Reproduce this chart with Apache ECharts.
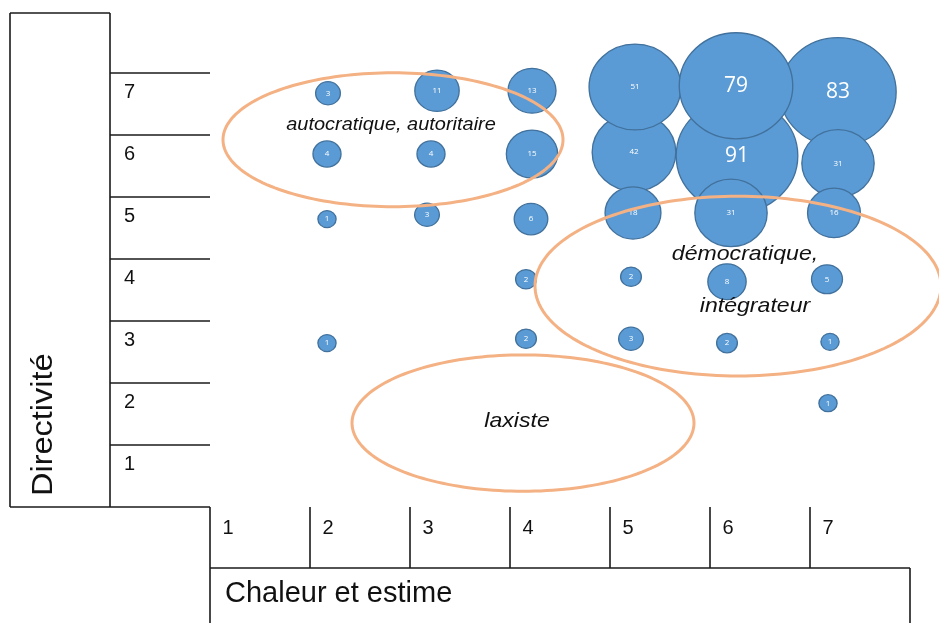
<!doctype html>
<html lang="fr">
<head>
    <meta charset="UTF-8">
    <title>Directivité / Chaleur et estime</title>
    <script src="https://cdn.jsdelivr.net/npm/echarts@6/dist/echarts.min.js"></script>
    <style>
        html, body { margin: 0; padding: 0; background: #fff; }
        #chart { width: 939px; height: 623px; }
    </style>
</head>
<body>
<div id="chart"></div>
<script type="text/javascript">
    // bubbles: chaleur (x), directivité (y), effectif
    var chaleur     = [6.09, 7.10, 5.06, 5.07, 6.08, 7.10, 6.03, 5.05, 7.06, 2.00, 3.09, 4.04, 1.99, 3.03,
                       4.04, 1.99, 2.99, 4.03, 3.98, 5.03, 5.99, 6.99, 1.99, 3.98, 5.03, 5.99, 7.02, 7.00];
    var directivite = [5.97, 7.00, 6.03, 7.08, 7.10, 5.85, 5.05, 5.05, 5.05, 6.98, 7.02, 7.02, 6.00, 6.00,
                       6.00, 4.95, 5.02, 4.95, 3.98, 4.02, 3.94, 3.98, 2.95, 3.02, 3.02, 2.95, 2.97, 1.98];
    var effectif    = [91, 83, 42, 51, 79, 31, 31, 18, 16, 3, 11, 13, 4, 4,
                       15, 1, 3, 6, 2, 2, 8, 5, 1, 2, 3, 2, 1, 1];

    // tick labels
    var xTicks = ['1', '2', '3', '4', '5', '6', '7'];
    var yTicks = ['1', '2', '3', '4', '5', '6', '7'];

    // zones (ellipses) and their captions, in data units
    var zoneX  = [2.65, 6.10, 3.95];
    var zoneY  = [6.23, 3.87, 1.66];
    var zoneRx = [1.70, 2.03, 1.71];
    var zoneRy = [1.08, 1.45, 1.10];
    var noteText = ['autocratique, autoritaire', 'démocratique,', 'intégrateur', 'laxiste'];
    var noteX    = [2.63, 6.17, 6.27, 3.89];
    var noteY    = [6.48, 4.39, 3.55, 1.69];

    var bubbleData = effectif.map(function (v, i) {
        return [chaleur[i], directivite[i], v];
    });

    //cadre du tableau
    var frame = [];
    var ink = {stroke: '#1a1a1a', lineWidth: 1.6};
    var addLine = function (x1, y1, x2, y2) {
        frame.push({type: 'line', shape: {x1: x1, y1: y1, x2: x2, y2: y2}, style: ink, silent: true});
    };
    addLine(10, 13, 110, 13);
    addLine(10, 13, 10, 507);
    addLine(110, 13, 110, 507);
    addLine(10, 507, 210, 507);
    for (var r = 0; r < 7; r++) addLine(110, 73 + 62 * r, 210, 73 + 62 * r);
    for (var c = 1; c < 7; c++) addLine(210 + 100 * c, 507, 210 + 100 * c, 568);
    addLine(210, 507, 210, 623);
    addLine(210, 568, 910, 568);
    addLine(910, 568, 910, 623);
    frame.push({
        type: 'text', x: 44, y: 496, rotation: Math.PI / 2, scaleX: 1.12, silent: true,
        style: {text: 'Directivité', font: '29px "Liberation Sans", Arial', fill: '#111',
            align: 'left', verticalAlign: 'middle'}
    });
    frame.push({
        type: 'text', x: 225, y: 594, silent: true,
        style: {text: 'Chaleur et estime', font: '29px "Liberation Sans", Arial', fill: '#111',
            align: 'left', verticalAlign: 'middle'}
    });

    // taille des légendes de zones
    var noteFont = [19, 21, 21, 21];
    var noteStretch = [1.05, 1.1, 1.1, 1.1];

    var myChart = echarts.init(document.getElementById('chart'));
    var option = {
        backgroundColor: '#fff',
        animation: false,
        graphic: frame,
        grid: {left: 128, right: 11, top: 30, bottom: 97},
        xAxis: {
            type: 'value', min: 0, max: 8, interval: 1,
            axisLine: {show: false}, axisTick: {show: false}, splitLine: {show: false},
            axisLabel: {
                margin: 2, verticalAlign: 'middle', color: '#111', fontSize: 20,
                fontFamily: '"Liberation Sans", Arial',
                formatter: function (v) { return xTicks[v - 1] || ''; }
            }
        },
        yAxis: {
            type: 'value', min: 0, max: 8, interval: 1,
            axisLine: {show: false}, axisTick: {show: false}, splitLine: {show: false},
            axisLabel: {
                margin: 4, align: 'left', color: '#111', fontSize: 20,
                fontFamily: '"Liberation Sans", Arial',
                formatter: function (v) { return yTicks[v - 1] || ''; }
            }
        },
        series: [
            {
                type: 'scatter',
                data: bubbleData.map(function (d) {
                    return {value: d, label: {fontSize: d[2] >= 75 ? 21 : 8}};
                }),
                symbolSize: function (d) {
                    var s = Math.max(17, 3 + 11.6 * Math.sqrt(d[2]));
                    return [s * 1.07, s];
                },
                itemStyle: {color: '#5B9BD5', borderColor: '#41719C', borderWidth: 1.3, opacity: 1},
                label: {
                    show: true, position: 'inside', color: '#fff',
                    fontFamily: '"Open Sans", "Noto Sans", sans-serif',
                    formatter: function (p) { return p.value[2]; }
                },
                z: 2
            },
            {
                type: 'custom',
                data: [0],
                clip: false,
                silent: true,
                z: 5,
                renderItem: function (params, api) {
                    var children = [];
                    zoneX.forEach(function (cx, i) {
                        var pts = [];
                        for (var k = 0; k < 180; k++) {
                            var a = k / 180 * Math.PI * 2;
                            pts.push(api.coord([cx + zoneRx[i] * Math.cos(a), zoneY[i] + zoneRy[i] * Math.sin(a)]));
                        }
                        children.push({
                            type: 'polygon', shape: {points: pts},
                            style: {fill: 'none', stroke: '#F4B183', lineWidth: 3}
                        });
                    });
                    noteText.forEach(function (t, i) {
                        var p = api.coord([noteX[i], noteY[i]]);
                        children.push({
                            type: 'text', x: p[0], y: p[1], scaleX: noteStretch[i],
                            style: {text: t, font: 'italic ' + noteFont[i] + 'px "Liberation Sans", Arial',
                                fill: '#111', align: 'center', verticalAlign: 'middle'}
                        });
                    });
                    return {type: 'group', children: children};
                }
            }
        ]
    };
    myChart.setOption(option);
</script>
</body>
</html>
